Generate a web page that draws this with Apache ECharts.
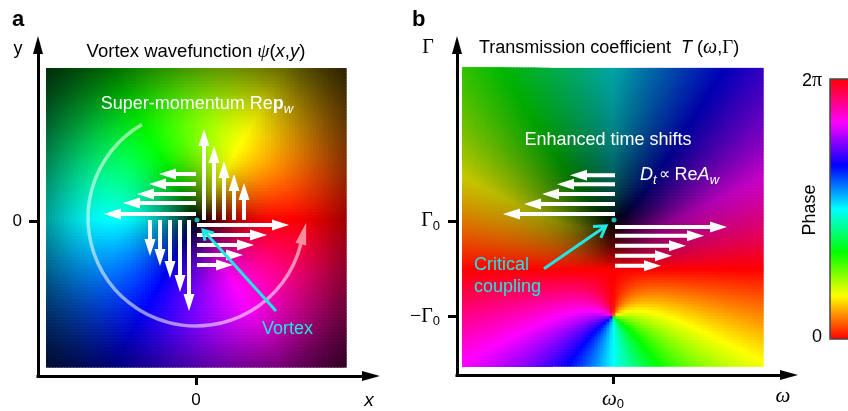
<!DOCTYPE html>
<html><head><meta charset="utf-8">
<script src="https://cdn.jsdelivr.net/npm/echarts@6/dist/echarts.min.js"></script>
<style>html,body{margin:0;padding:0;background:#fff}#c{width:848px;height:411px}</style>
</head><body><div id="c"></div>
<script>
const SANS = '"Liberation Sans", Arial, Helvetica, sans-serif';
const SERIF = '"Liberation Serif", "Times New Roman", serif';
const CYAN = '#22e6e6';

// ---------- Panel a : vortex wavefunction (data unit = 100 px) ----------
const vortexCenter = [0.01, 0.02];
const vortexRingRadius = 0.85;
const vortexImageX = [-1.50, 1.50];
const vortexImageY = [-1.46, 1.53];
const vortexCellsPerSide = 100;

const upArrowsA = [[0.08,0.01,0.08,0.92],[0.18,0.01,0.18,0.75],[0.28,0.01,0.28,0.60],[0.38,0.01,0.38,0.47],[0.48,0.01,0.48,0.38]];
const leftArrowsA = [[0,0.47,-0.37,0.47],[0,0.37,-0.47,0.37],[0,0.27,-0.59,0.27],[0,0.18,-0.73,0.18],[0,0.07,-0.92,0.07]];
const rightArrowsA = [[0.01,-0.04,0.93,-0.04],[0.01,-0.14,0.71,-0.14],[0.01,-0.24,0.58,-0.24],[0.01,-0.34,0.47,-0.34],[0.01,-0.44,0.37,-0.44]];
const downArrowsA = [[-0.46,0.01,-0.46,-0.35],[-0.36,0.01,-0.36,-0.45],[-0.26,0.01,-0.26,-0.57],[-0.16,0.01,-0.16,-0.71],[-0.07,0.01,-0.07,-0.90]];
const vortexPointer = [[0.80,-0.90,0.07,-0.09]];
const vortexDot = [[0.01,0.01]];
const circulationArc = [[0, 0.03, 1.08, 120, 346]]; // centre x, centre y, radius, start deg, end deg

// ---------- Panel b : transmission coefficient (data unit = Γ0 = 48 px) ----------
const tZero = [0, 1];
const tPole = [0, -1];
const transImageW = [-3.146, 3.125];
const transImageG = [-2.042, 4.208];
const transCellsPerSide = 100;
const transGamma = 0.9;

const leftArrowsB = [[0.042,1.958,-0.896,1.958],[0.042,1.771,-1.167,1.771],[0.042,1.5625,-1.479,1.5625],[0.042,1.354,-1.854,1.354],[0.042,1.146,-2.292,1.146]];
const rightArrowsB = [[0.042,0.875,2.375,0.875],[0.042,0.6875,1.896,0.6875],[0.042,0.479,1.521,0.479],[0.042,0.271,1.229,0.271],[0.042,0.0625,1.0,0.0625]];
const couplingPointer = [[-1.4375,0,-0.146,0.896]];
const couplingDot = [[0.02,1.02]];

const phaseRange = [0, 2 * Math.PI];
const phaseColors = ['#ff0000','#ffff00','#00ff00','#00ffff','#0000ff','#ff00ff','#ff0000'];

// ---------- helpers ----------
function hsv(h, v) {
  h = ((h % 360) + 360) % 360;
  v = Math.max(0, Math.min(1, v));
  const f = n => { const k = (n + h / 60) % 6; return v - v * Math.max(0, Math.min(k, 4 - k, 1)); };
  return 'rgb(' + Math.round(255 * f(5)) + ',' + Math.round(255 * f(3)) + ',' + Math.round(255 * f(1)) + ')';
}

const cwA = (vortexImageX[1] - vortexImageX[0]) / vortexCellsPerSide;
const chA = (vortexImageY[1] - vortexImageY[0]) / vortexCellsPerSide;
const vortexCells = [];
for (let i = 0; i < vortexCellsPerSide; i++) {
  for (let j = 0; j < vortexCellsPerSide; j++) {
    const x = vortexImageX[0] + (i + 0.5) * cwA;
    const y = vortexImageY[0] + (j + 0.5) * chA;
    const dx = x - vortexCenter[0], dy = y - vortexCenter[1];
    const r = Math.hypot(dx, dy) / vortexRingRadius;
    const phase = Math.atan2(dy, dx) * 180 / Math.PI;
    const amp = r * Math.exp((1 - r * r) / 2);
    vortexCells.push([x, y, phase, amp]);
  }
}

const cwB = (transImageW[1] - transImageW[0]) / transCellsPerSide;
const chB = (transImageG[1] - transImageG[0]) / transCellsPerSide;
const transCells = [];
for (let i = 0; i < transCellsPerSide; i++) {
  for (let j = 0; j < transCellsPerSide; j++) {
    const w = transImageW[0] + (i + 0.5) * cwB;
    const g = transImageG[0] + (j + 0.5) * chB;
    const a1 = Math.atan2(g - tZero[1], w - tZero[0]);
    const a2 = Math.atan2(g - tPole[1], w - tPole[0]);
    const phase = -(a1 + a2) * 180 / Math.PI;
    const mag = Math.hypot(w - tZero[0], g - tZero[1]) / Math.hypot(w - tPole[0], g - tPole[1]);
    transCells.push([w, g, phase, Math.min(1, Math.pow(mag, transGamma))]);
  }
}

function cellRenderer(cw, ch) {
  return function (params, api) {
    const c = api.coord([api.value(0), api.value(1)]);
    const s = api.size([cw, ch]);
    return { type: 'rect', shape: { x: c[0] - s[0] / 2, y: c[1] - s[1] / 2, width: s[0] + 0.7, height: s[1] + 0.7 },
      style: { fill: hsv(api.value(2), api.value(3)) } };
  };
}

function arrowRenderer(shaft, headW, headL, color) {
  return function (params, api) {
    const p0 = api.coord([api.value(0), api.value(1)]);
    const p1 = api.coord([api.value(2), api.value(3)]);
    const dx = p1[0] - p0[0], dy = p1[1] - p0[1], L = Math.hypot(dx, dy);
    const ux = dx / L, uy = dy / L, nx = -uy, ny = ux;
    const bx = p1[0] - ux * headL, by = p1[1] - uy * headL;
    const pts = [
      [p0[0] + nx * shaft / 2, p0[1] + ny * shaft / 2],
      [bx + nx * shaft / 2, by + ny * shaft / 2],
      [bx + nx * headW / 2, by + ny * headW / 2],
      [p1[0], p1[1]],
      [bx - nx * headW / 2, by - ny * headW / 2],
      [bx - nx * shaft / 2, by - ny * shaft / 2],
      [p0[0] - nx * shaft / 2, p0[1] - ny * shaft / 2]
    ];
    return { type: 'polygon', shape: { points: pts }, style: { fill: color } };
  };
}

function pointerRenderer(arm) {
  return function (params, api) {
    const p0 = api.coord([api.value(0), api.value(1)]);
    const p1 = api.coord([api.value(2), api.value(3)]);
    const dx = p1[0] - p0[0], dy = p1[1] - p0[1], L = Math.hypot(dx, dy);
    const ux = dx / L, uy = dy / L;
    const ang = 32 * Math.PI / 180;
    const rot = (a) => [p1[0] - arm * (ux * Math.cos(a) - uy * Math.sin(a)), p1[1] - arm * (ux * Math.sin(a) + uy * Math.cos(a))];
    return { type: 'group', children: [
      { type: 'line', shape: { x1: p0[0], y1: p0[1], x2: p1[0], y2: p1[1] }, style: { stroke: CYAN, lineWidth: 3 } },
      { type: 'polyline', shape: { points: [rot(ang), p1, rot(-ang)] }, style: { stroke: CYAN, lineWidth: 3, fill: null } }
    ] };
  };
}

function arcRenderer(params, api) {
  const c = api.coord([api.value(0), api.value(1)]);
  const R = api.size([api.value(2), 0])[0];
  const a0 = api.value(3) * Math.PI / 180, a1 = api.value(4) * Math.PI / 180;
  const ex = c[0] + R * Math.cos(a1), ey = c[1] - R * Math.sin(a1);
  const tx = -Math.sin(a1), ty = -Math.cos(a1);
  const headL = 22, headW = 11;
  const col = 'rgba(255,255,255,0.55)';
  return { type: 'group', children: [
    { type: 'arc', shape: { cx: c[0], cy: c[1], r: R, startAngle: -a0, endAngle: -a1, clockwise: false },
      style: { stroke: col, lineWidth: 3.5, fill: null } },
    { type: 'polygon', shape: { points: [[ex - ty * headW / 2, ey + tx * headW / 2], [ex + tx * headL, ey + ty * headL], [ex + ty * headW / 2, ey - tx * headW / 2]] },
      style: { fill: col } }
  ] };
}

const axisLineStyle = { show: true, onZero: false, symbol: ['none', 'triangle'], symbolSize: [10, 18],
  lineStyle: { color: '#000', width: 3, cap: 'square' } };
const tickStyle = { show: true, length: 9, inside: false, lineStyle: { color: '#000', width: 3 } };
const subRich = { fontFamily: SANS, fontSize: 13, padding: [11, 0, 0, 0], color: '#000' };

const option = {
  animation: false,
  backgroundColor: '#fff',
  grid: [
    { left: 38, top: 45, width: 333, height: 331 },
    { left: 457, top: 45, width: 332, height: 332 }
  ],
  xAxis: [
    { gridIndex: 0, type: 'value', min: -1.58, max: 1.75, axisLine: axisLineStyle, splitLine: { show: false },
      axisTick: Object.assign({ customValues: [0] }, tickStyle),
      axisLabel: { customValues: [0], margin: 16, fontSize: 17, fontFamily: SANS, color: '#000' } },
    { gridIndex: 1, type: 'value', min: -3.25, max: 3.6667, axisLine: axisLineStyle, splitLine: { show: false },
      axisTick: Object.assign({ customValues: [0] }, tickStyle),
      axisLabel: { customValues: [0], margin: 12, formatter: v => '{w|ω}{s|0}',
        rich: { w: { fontFamily: SERIF, fontStyle: 'italic', fontSize: 21, color: '#000' }, s: subRich } } }
  ],
  yAxis: [
    { gridIndex: 0, type: 'value', min: -1.55, max: 1.76, axisLine: axisLineStyle, splitLine: { show: false },
      axisTick: Object.assign({ customValues: [0] }, tickStyle),
      axisLabel: { customValues: [0], margin: 16, fontSize: 17, fontFamily: SANS, color: '#000' } },
    { gridIndex: 1, type: 'value', min: -2.2292, max: 4.6875, axisLine: axisLineStyle, splitLine: { show: false },
      axisTick: Object.assign({ customValues: [-1, 1] }, tickStyle),
      axisLabel: { customValues: [-1, 1], margin: 17, formatter: v => (v < 0 ? '{g|−Γ}{s|0}' : '{g|Γ}{s|0}'),
        rich: { g: { fontFamily: SERIF, fontSize: 20, color: '#000' }, s: subRich } } }
  ],
  visualMap: [{
    type: 'continuous', min: phaseRange[0], max: phaseRange[1], orient: 'vertical', left: 830, top: 79,
    itemWidth: 30, itemHeight: 260, padding: 0, calculable: false, hoverLink: false,
    inRange: { color: phaseColors }, seriesIndex: [9]
  }],
  series: [
    { type: 'custom', name: 'vortex', xAxisIndex: 0, yAxisIndex: 0, z: 1, silent: true, data: vortexCells, renderItem: cellRenderer(cwA, chA) },
    { type: 'custom', name: 'circulation', xAxisIndex: 0, yAxisIndex: 0, z: 2, silent: true, data: circulationArc, renderItem: arcRenderer },
    { type: 'custom', name: 'superMomentum', xAxisIndex: 0, yAxisIndex: 0, z: 3, silent: true,
      data: upArrowsA.concat(leftArrowsA, rightArrowsA, downArrowsA), renderItem: arrowRenderer(4, 11, 17, '#fff') },
    { type: 'custom', name: 'vortexPointer', xAxisIndex: 0, yAxisIndex: 0, z: 4, silent: true, data: vortexPointer, renderItem: pointerRenderer(11) },
    { type: 'scatter', name: 'vortexDot', xAxisIndex: 0, yAxisIndex: 0, z: 5, silent: true, data: vortexDot, symbolSize: 5, itemStyle: { color: CYAN } },
    { type: 'custom', name: 'transmission', xAxisIndex: 1, yAxisIndex: 1, z: 1, silent: true, data: transCells, renderItem: cellRenderer(cwB, chB) },
    { type: 'custom', name: 'timeShifts', xAxisIndex: 1, yAxisIndex: 1, z: 3, silent: true,
      data: leftArrowsB.concat(rightArrowsB), renderItem: arrowRenderer(4, 11, 17, '#fff') },
    { type: 'custom', name: 'couplingPointer', xAxisIndex: 1, yAxisIndex: 1, z: 4, silent: true, data: couplingPointer, renderItem: pointerRenderer(13) },
    { type: 'scatter', name: 'couplingDot', xAxisIndex: 1, yAxisIndex: 1, z: 5, silent: true, data: couplingDot, symbolSize: 5, itemStyle: { color: CYAN } },
    { type: 'scatter', name: 'phaseLegend', xAxisIndex: 1, yAxisIndex: 1, data: [] }
  ],
  graphic: [
    { type: 'text', x: 12, y: 20, z: 50, style: { text: 'a', font: 'bold 22px ' + SANS, fill: '#000', align: 'left', verticalAlign: 'middle' } },
    { type: 'text', x: 412, y: 20, z: 50, style: { text: 'b', font: 'bold 22px ' + SANS, fill: '#000', align: 'left', verticalAlign: 'middle' } },
    { type: 'text', x: 18, y: 49, z: 50, style: { text: 'y', font: '18px ' + SANS, fill: '#000', align: 'center', verticalAlign: 'middle' } },
    { type: 'text', x: 369, y: 401, z: 50, style: { text: 'x', font: 'italic 19px ' + SANS, fill: '#000', align: 'center', verticalAlign: 'middle' } },
    { type: 'text', x: 428, y: 48, z: 50, style: { text: 'Γ', font: '20px ' + SERIF, fill: '#000', align: 'center', verticalAlign: 'middle' } },
    { type: 'text', x: 783, y: 396, z: 50, style: { text: 'ω', font: 'italic 21px ' + SERIF, fill: '#000', align: 'center', verticalAlign: 'middle' } },
    { type: 'text', x: 196, y: 52, z: 50, style: {
        text: 'Vortex wavefunction {g|ψ}({i|x},{i|y})', font: '18.5px ' + SANS, fill: '#000', align: 'center', verticalAlign: 'middle',
        rich: { g: { fontFamily: SERIF, fontStyle: 'italic', fontSize: 19.5 }, i: { fontFamily: SANS, fontStyle: 'italic', fontSize: 18.5 } } } },
    { type: 'text', x: 197, y: 104, z: 50, style: {
        text: 'Super-momentum Re{b|p}{s|w}', font: '18px ' + SANS, fill: '#fff', align: 'center', verticalAlign: 'middle',
        rich: { b: { fontFamily: SANS, fontWeight: 'bold', fontSize: 18, color: '#fff' }, s: { fontFamily: SANS, fontStyle: 'italic', fontSize: 13, padding: [11, 0, 0, 0], color: '#fff' } } } },
    { type: 'text', x: 262, y: 329, z: 50, style: { text: 'Vortex', font: '18px ' + SANS, fill: CYAN, align: 'left', verticalAlign: 'middle' } },
    { type: 'text', x: 479, y: 48, z: 50, style: {
        text: 'Transmission coefficient  {i|T} ({w|ω},{g|Γ})', font: '18px ' + SANS, fill: '#000', align: 'left', verticalAlign: 'middle',
        rich: { i: { fontFamily: SANS, fontStyle: 'italic', fontSize: 18 }, w: { fontFamily: SERIF, fontStyle: 'italic', fontSize: 20 }, g: { fontFamily: SERIF, fontSize: 19 } } } },
    { type: 'text', x: 608, y: 140, z: 50, style: { text: 'Enhanced time shifts', font: '18px ' + SANS, fill: '#fff', align: 'center', verticalAlign: 'middle' } },
    { type: 'text', x: 640, y: 175, z: 50, style: {
        text: '{i|D}{s|t}{p|∝} Re{i|A}{s|w}', font: '18px ' + SANS, fill: '#fff', align: 'left', verticalAlign: 'middle',
        rich: { i: { fontFamily: SANS, fontStyle: 'italic', fontSize: 18, color: '#fff' }, p: { fontFamily: SANS, fontSize: 16, color: '#fff', padding: [0, 0, 0, 2] },
                s: { fontFamily: SANS, fontStyle: 'italic', fontSize: 13, padding: [11, 0, 0, 0], color: '#fff' } } } },
    { type: 'text', x: 474, y: 265, z: 50, style: { text: 'Critical', font: '18px ' + SANS, fill: CYAN, align: 'left', verticalAlign: 'middle' } },
    { type: 'text', x: 474, y: 287, z: 50, style: { text: 'coupling', font: '18px ' + SANS, fill: CYAN, align: 'left', verticalAlign: 'middle' } },
    { type: 'text', x: 810, y: 210, z: 50, rotation: Math.PI / 2, style: { text: 'Phase', font: '18px ' + SANS, fill: '#000', align: 'center', verticalAlign: 'middle' } },
    { type: 'text', x: 822, y: 81, z: 50, style: { text: '2{p|π}', font: '18px ' + SANS, fill: '#000', align: 'right', verticalAlign: 'middle',
        rich: { p: { fontFamily: SERIF, fontSize: 20 } } } },
    { type: 'text', x: 822, y: 337, z: 50, style: { text: '0', font: '18px ' + SANS, fill: '#000', align: 'right', verticalAlign: 'middle' } },
    { type: 'rect', z: 60, shape: { x: 830, y: 79, width: 30, height: 260 }, style: { fill: null, stroke: '#444', lineWidth: 1.5 } }
  ]
};

const chart = echarts.init(document.getElementById('c'), null, { renderer: 'canvas' });
chart.setOption(option);
</script></body></html>
